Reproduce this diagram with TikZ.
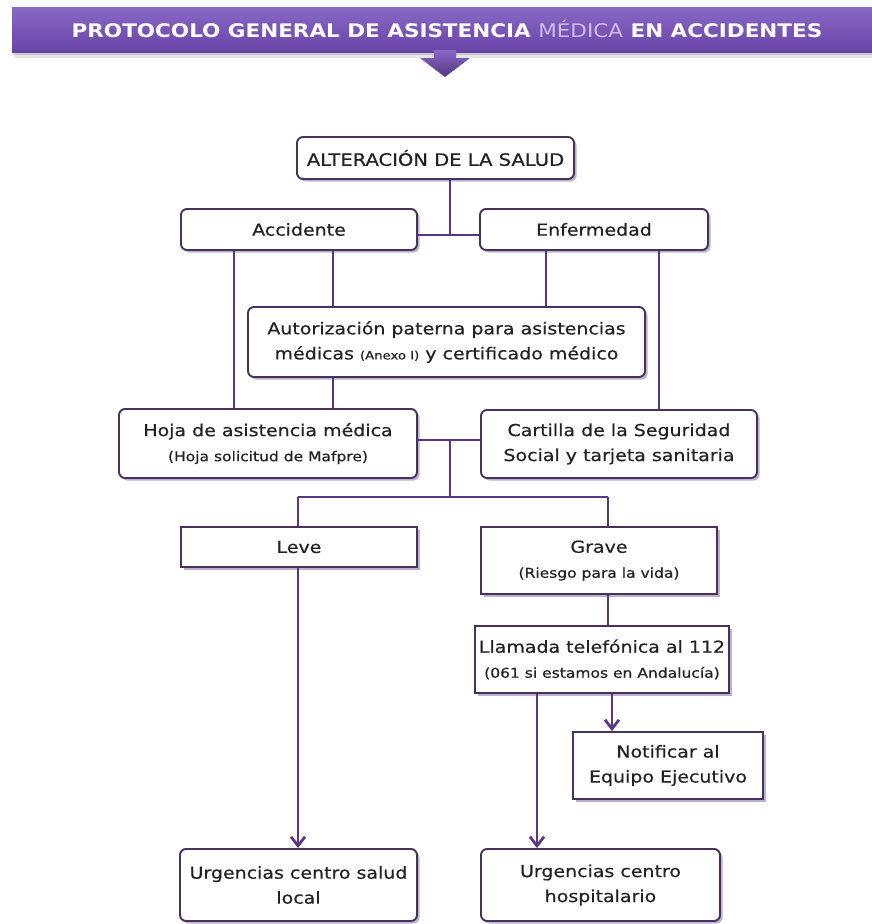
\documentclass[tikz,border=0pt]{standalone}
\usepackage{fontspec}
\newfontfamily\dvs[FakeStretch=1.15,FakeBold=0.5]{DejaVu Sans}
\newfontfamily\dvt[FakeStretch=1.15]{DejaVu Sans}
\usetikzlibrary{arrows.meta,shadows}
\definecolor{linec}{RGB}{88,55,135}
\definecolor{boxline}{RGB}{70,50,90}
\definecolor{shadowc}{RGB}{110,80,150}
\definecolor{txtc}{RGB}{35,35,35}
\definecolor{bantop}{RGB}{138,104,198}
\definecolor{banbot}{RGB}{104,68,166}
\definecolor{medc}{RGB}{205,190,230}
\newcommand\fmain{\dvs\fontsize{16.5}{25}\selectfont}
\newcommand\fsmall{\fontsize{13.5}{25}\selectfont}
\newcommand\ftiny{\fontsize{11.5}{25}\selectfont}
\tikzset{
  box/.style={draw=boxline, line width=1.9pt, fill=white, inner sep=0pt,
    align=center, font=\fmain, text=txtc,
    drop shadow={shadow xshift=2.5pt, shadow yshift=-2.5pt, fill=shadowc, opacity=0.45}},
  rbox/.style={box, rounded corners=6pt},
  conn/.style={draw=linec, line width=2.8pt},
  arr/.style={conn, -{Straight Barb[length=9pt,width=14pt]}}
}
\begin{document}
\begin{tikzpicture}[x=1pt,y=-1pt]
\useasboundingbox (0,0) rectangle (872,924);
% banner
\fill[black, opacity=0.10] (15,11) rectangle (872,58);
\fill[black, opacity=0.12] (13,9) rectangle (872,55);
\shade[top color=bantop, bottom color=banbot] (12,7) rectangle (872,52);
\node[font=\dvt\fontsize{18.7}{22}\selectfont\bfseries, text=white, inner sep=0pt] (title) at (447,29)
  {PROTOCOLO GENERAL DE ASISTENCIA {\mdseries\color{medc}MÉDICA} EN ACCIDENTES};
% down arrow
\shade[top color=bantop, bottom color=banbot!80!black] (434,50) -- (456,50) -- (456,58) -- (470,58) -- (445,77) -- (420,58) -- (434,58) -- cycle;

% boxes
\node[rbox, minimum width=277, minimum height=42, font=\dvs\fontsize{17}{22}\selectfont] (alt) at (435.5,158) {ALTERACIÓN DE LA SALUD};
\node[rbox, minimum width=236, minimum height=41] (acc) at (299,229.5) {Accidente};
\node[rbox, minimum width=228, minimum height=41] (enf) at (594,229.5) {Enfermedad};
\node[rbox, minimum width=397, minimum height=70] (aut) at (446.5,342) {Autorización paterna para asistencias\\médicas {\ftiny (Anexo I)} y certificado médico};
\node[rbox, minimum width=298, minimum height=69] (hoja) at (268,443.5) {Hoja de asistencia médica\\{\fsmall (Hoja solicitud de Mafpre)}};
\node[rbox, minimum width=276, minimum height=68] (cart) at (619,444) {Cartilla de la Seguridad\\Social y tarjeta sanitaria};
\node[box, minimum width=236, minimum height=40] (leve) at (299,547) {Leve};
\node[box, minimum width=236, minimum height=67] (grave) at (599,560.5) {Grave\\{\fsmall (Riesgo para la vida)}};
\node[box, minimum width=254, minimum height=67] (llam) at (602,659.5) {Llamada telefónica al 112\\{\fsmall (061 si estamos en Andalucía)}};
\node[box, minimum width=190, minimum height=67] (notif) at (668,765.5) {Notificar al\\Equipo Ejecutivo};
\node[rbox, minimum width=237, minimum height=72] (urgl) at (298.5,885) {Urgencias centro salud\\local};
\node[rbox, minimum width=239, minimum height=72] (urgh) at (600.5,885) {Urgencias centro\\hospitalario};

% junctions and x positions
\coordinate (j1) at (450,235);
\coordinate (j2) at (450,440);
\coordinate (j3) at (450,497);
\coordinate (xA) at (234,0);
\coordinate (xB) at (333,0);
\coordinate (xC) at (546,0);
\coordinate (xD) at (659,0);
\coordinate (xL) at (298,0);
\coordinate (xG) at (608,0);
\coordinate (xH) at (537,0);
\coordinate (xN) at (612,0);

% connectors
\draw[conn] (alt.south -| j1) -- (j1);
\draw[conn] (acc.east |- j1) -- (enf.west |- j1);
\draw[conn] (acc.south -| xA) -- (hoja.north -| xA);
\draw[conn] (acc.south -| xB) -- (aut.north -| xB);
\draw[conn] (aut.south -| xB) -- (hoja.north -| xB);
\draw[conn] (enf.south -| xC) -- (aut.north -| xC);
\draw[conn] (enf.south -| xD) -- (cart.north -| xD);
\draw[conn] (hoja.east |- j2) -- (cart.west |- j2);
\draw[conn] (j2) -- (j3);
\draw[conn] (j3 -| xL) -- (j3 -| xG);
\draw[conn] (j3 -| xL) -- (leve.north -| xL);
\draw[conn] (j3 -| xG) -- (grave.north -| xG);
\draw[arr] (leve.south -| xL) -- (urgl.north -| xL);
\draw[conn] (grave.south -| xG) -- (llam.north -| xG);
\draw[arr] (llam.south -| xH) -- (urgh.north -| xH);
\draw[arr] (llam.south -| xN) -- (notif.north -| xN);
\end{tikzpicture}
\end{document}
